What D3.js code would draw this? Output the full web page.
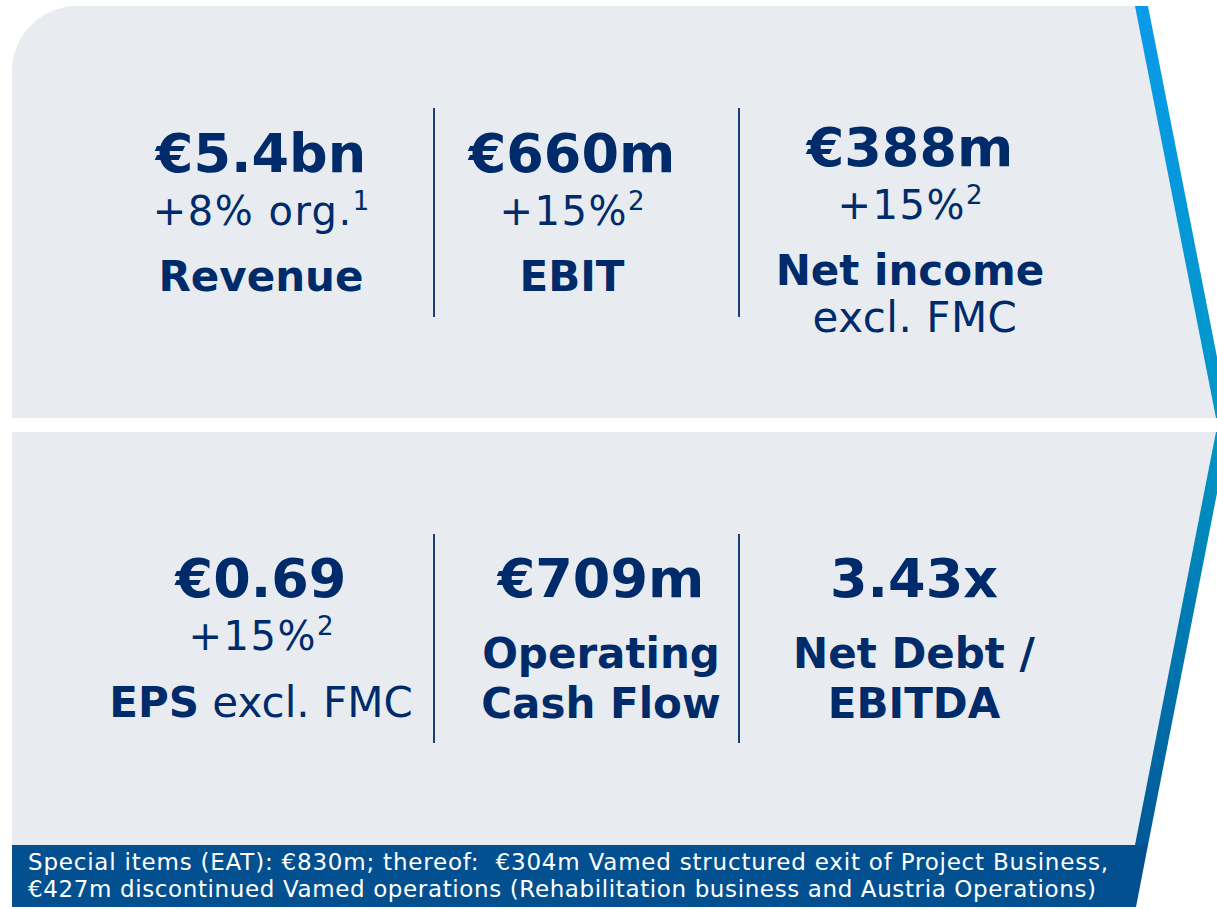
<!DOCTYPE html>
<html>
<head>
<meta charset="utf-8">
<script src="https://cdn.jsdelivr.net/npm/d3@7"></script>
<style>
  body { margin: 0; background: #fff; }
  svg { display: block; font-family: Verdana, "DejaVu Sans", sans-serif; }
  text { white-space: pre; }
</style>
</head>
<body>
<svg id="chart"></svg>
<script>
// KPI data
var kpiValues = ["€5.4bn", "€660m", "€388m", "€0.69", "€709m", "3.43x"];
var kpiChanges = ["+8% org.", "+15%", "+15%", "+15%", "", ""];
var kpiFootnotes = ["1", "2", "2", "2", "", ""];
var kpiLabels = [["Revenue"], ["EBIT"], ["Net income"], ["EPS"], ["Operating", "Cash Flow"], ["Net Debt /", "EBITDA"]];
var kpiQualifiers = ["", "", "excl. FMC", "excl. FMC", "", ""];
var footerLines = [
    "Special items (EAT): €830m; thereof:  €304m Vamed structured exit of Project Business,",
    "€427m discontinued Vamed operations (Rehabilitation business and Austria Operations)"
];

var width = 1217, height = 909;
var navy = "#002b6a";

var svg = d3.select("#chart")
    .attr("width", width)
    .attr("height", height);

var defs = svg.append("defs");
var grad = defs.append("linearGradient")
    .attr("id", "edge")
    .attr("gradientUnits", "userSpaceOnUse")
    .attr("x1", 0).attr("y1", 6).attr("x2", 0).attr("y2", 907);
grad.append("stop").attr("offset", "0").attr("stop-color", "#0a9ae9");
grad.append("stop").attr("offset", "0.47").attr("stop-color", "#0096c6");
grad.append("stop").attr("offset", "0.75").attr("stop-color", "#0072ac");
grad.append("stop").attr("offset", "1").attr("stop-color", "#034f8f");

// panels
var line = d3.line();
var topPanel = d3.path();
topPanel.moveTo(12, 71);
topPanel.arcTo(12, 6, 77, 6, 65);
topPanel.lineTo(1141, 6);
topPanel.lineTo(1222, 418);
topPanel.lineTo(12, 418);
topPanel.closePath();

svg.append("path").attr("d", topPanel.toString()).attr("fill", "#e8ecf0");
svg.append("path")
    .attr("d", line([[12, 432], [1222, 432], [1141, 845], [12, 845]]) + "Z")
    .attr("fill", "#e8ecf0");

// chevron edge bands
svg.append("path")
    .attr("d", line([[1135, 6], [1148, 6], [1229, 418], [1216, 418]]) + "Z")
    .attr("fill", "url(#edge)");
svg.append("path")
    .attr("d", line([[1216, 432], [1229, 432], [1148, 845], [1135, 845]]) + "Z")
    .attr("fill", "url(#edge)");

// footer
svg.append("path")
    .attr("d", line([[12, 845], [1148, 845], [1136, 907], [12, 907]]) + "Z")
    .attr("fill", "#035090");

var footerWidths = [1080, 1068];
svg.selectAll("text.footer")
    .data(footerLines)
    .enter()
    .append("text")
    .attr("class", "footer")
    .attr("x", 28)
    .attr("y", function (d, i) { return 870 + i * 27; })
    .attr("fill", "#fff")
    .attr("font-size", 23)
    .attr("textLength", function (d, i) { return footerWidths[i]; })
    .attr("lengthAdjust", "spacing")
    .text(function (d) { return d; });

// layout per panel
var panelTop = [0, 426];
var colX = [
    d3.scaleOrdinal().domain([0, 1, 2]).range([261, 572, 910]),
    d3.scaleOrdinal().domain([0, 1, 2]).range([261, 601, 914])
];
var dividerX = [434, 739];

[0, 1].forEach(function (p) {
    svg.selectAll("line.div" + p)
        .data(dividerX)
        .enter()
        .append("line")
        .attr("x1", function (d) { return d; })
        .attr("x2", function (d) { return d; })
        .attr("y1", panelTop[p] + 108)
        .attr("y2", panelTop[p] + 317)
        .attr("stroke", "#1b3d78")
        .attr("stroke-width", 2);
});

var kpis = kpiValues.map(function (v, i) {
    return {
        value: v,
        change: kpiChanges[i],
        note: kpiFootnotes[i],
        label: kpiLabels[i],
        qualifier: kpiQualifiers[i],
        panel: Math.floor(i / 3),
        col: i % 3
    };
});

var cells = svg.selectAll("g.kpi")
    .data(kpis)
    .enter()
    .append("g")
    .attr("class", "kpi")
    .attr("transform", function (d) {
        // cells with a qualifier line underneath sit a bit higher
        var shift = (d.qualifier && d.panel === 0) ? -6 : 0;
        return "translate(" + colX[d.panel](d.col) + "," + (panelTop[d.panel] + shift) + ")";
    });

cells.append("text")
    .attr("text-anchor", "middle")
    .attr("y", function (d) { return d.panel === 0 ? 172 : 171; })
    .attr("font-size", 54)
    .attr("font-weight", "bold")
    .attr("fill", navy)
    .text(function (d) { return d.value; });

var changeText = cells.filter(function (d) { return d.change; })
    .append("text")
    .attr("text-anchor", "middle")
    .attr("y", function (d) { return d.panel === 0 ? 225 : 224; })
    .attr("font-size", 40)
    .attr("letter-spacing", 1.5)
    .attr("fill", navy);
changeText.append("tspan").text(function (d) { return d.change; });
changeText.append("tspan")
    .attr("dy", -15)
    .attr("font-size", 26)
    .attr("letter-spacing", 0)
    .text(function (d) { return d.note; });

cells.each(function (d) {
    var g = d3.select(this);
    var y0 = d.change ? 291 : 242;
    d.label.forEach(function (t, j) {
        var txt = g.append("text")
            .attr("text-anchor", "middle")
            .attr("y", y0 + j * 50)
            .attr("font-size", 42)
            .attr("fill", navy);
        txt.append("tspan").attr("font-weight", "bold").text(t);
        if (d.qualifier && d.panel === 1) {
            txt.append("tspan").text(" " + d.qualifier);
        }
    });
    if (d.qualifier && d.panel === 0) {
        g.append("text")
            .attr("text-anchor", "middle")
            .attr("x", 5)
            .attr("y", y0 + 47)
            .attr("font-size", 42)
            .attr("letter-spacing", 0.5)
            .attr("fill", navy)
            .text(d.qualifier);
    }
});
</script>
</body>
</html>
